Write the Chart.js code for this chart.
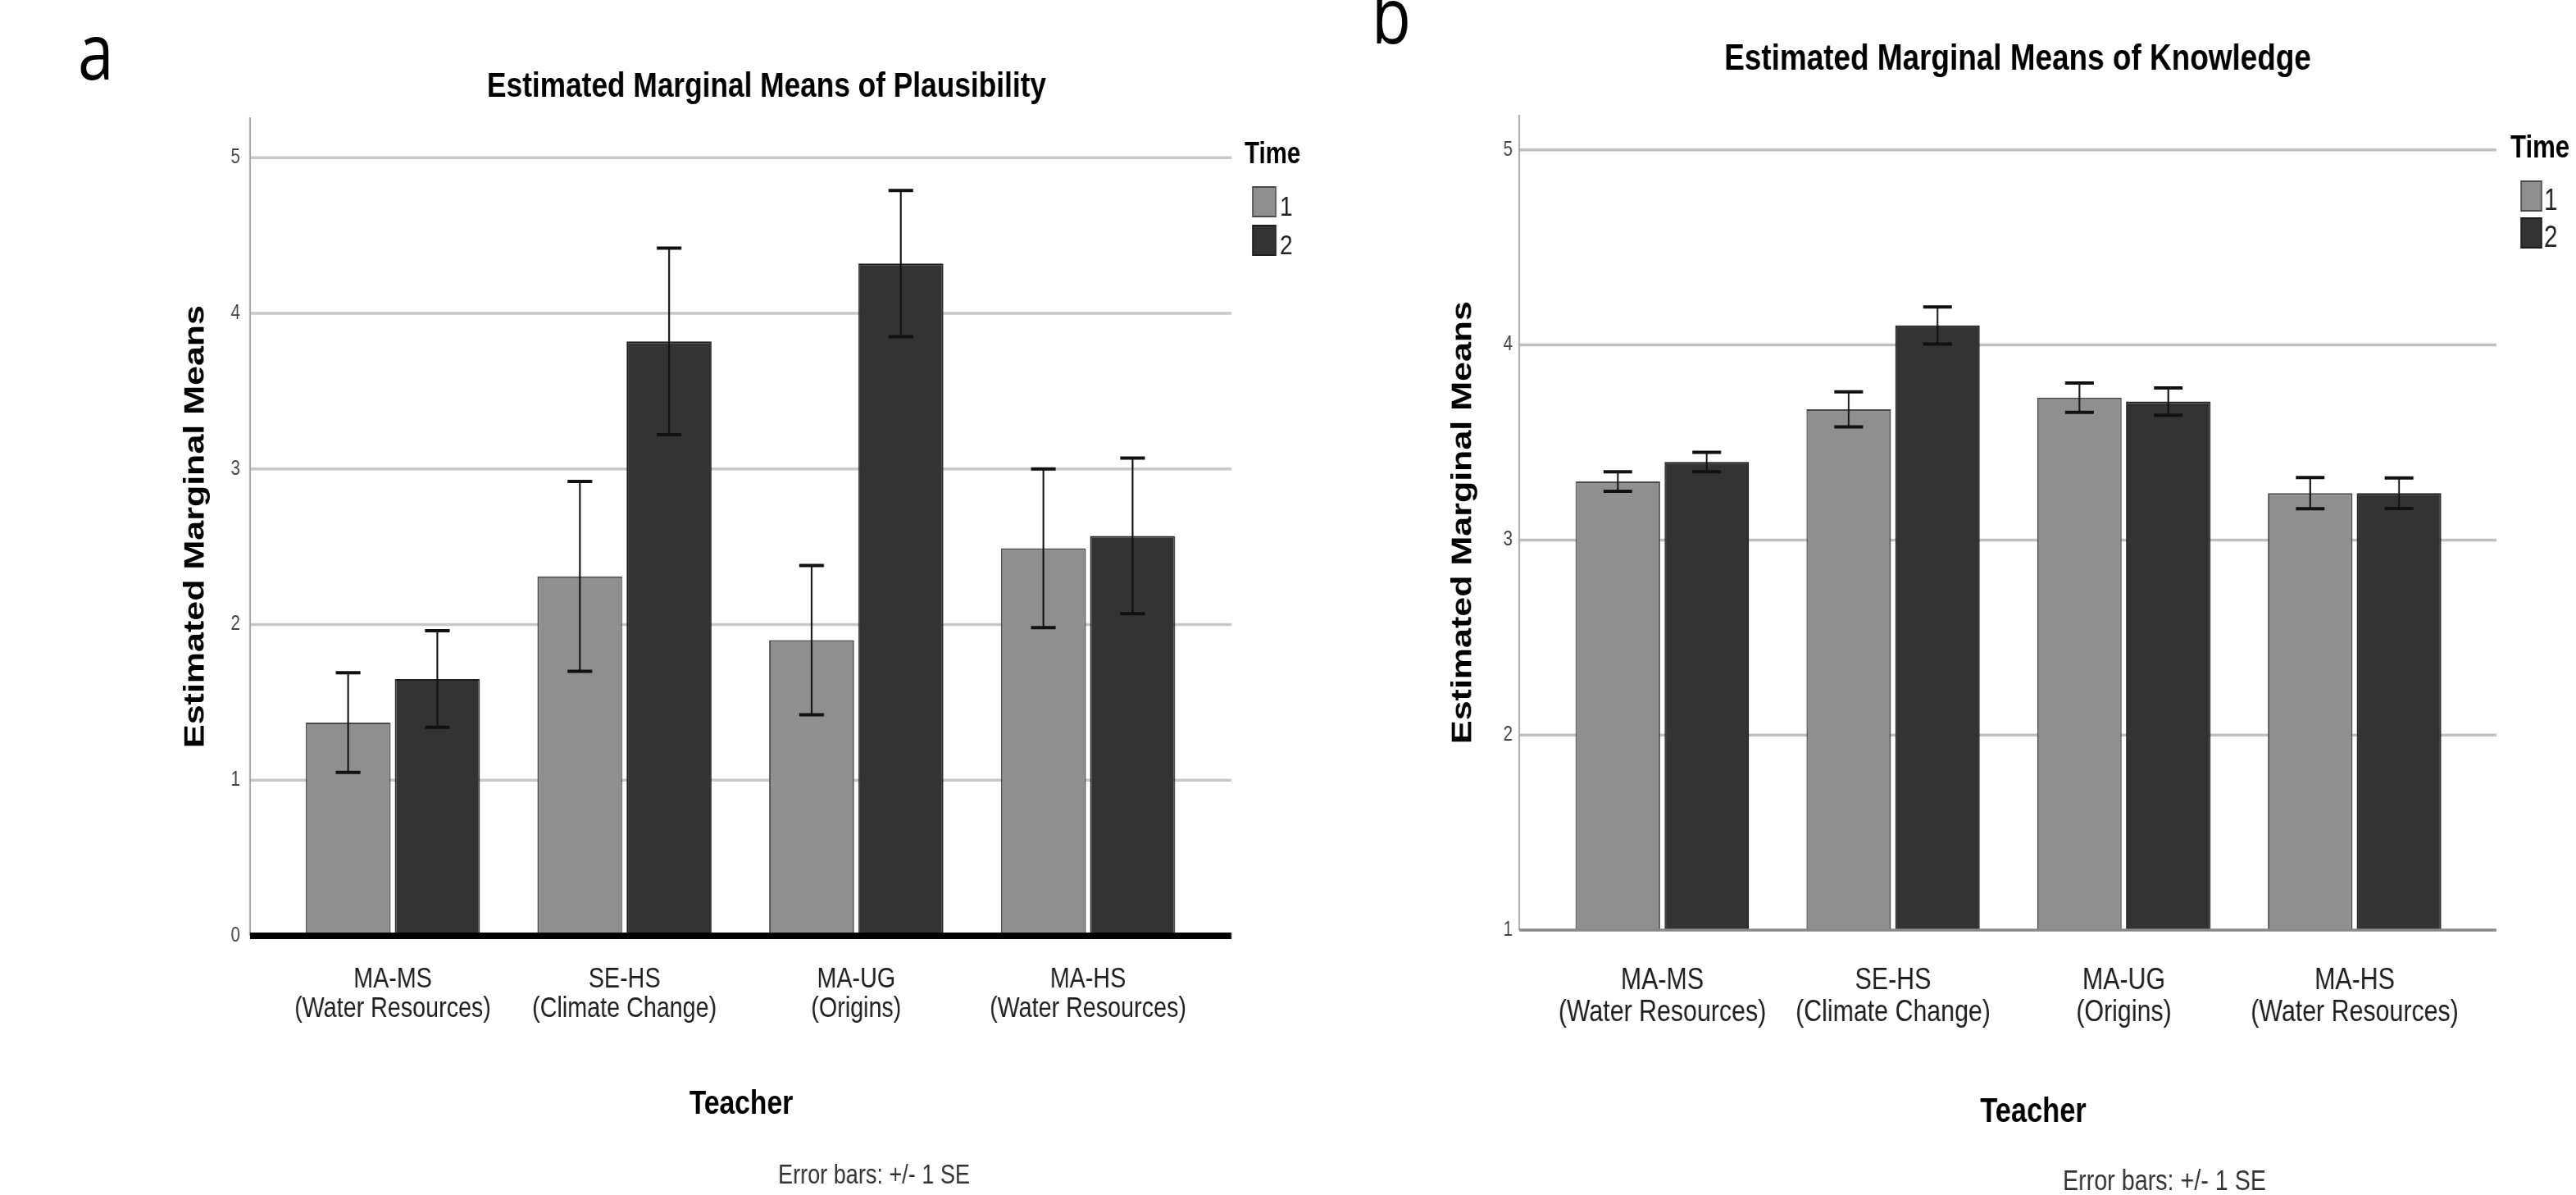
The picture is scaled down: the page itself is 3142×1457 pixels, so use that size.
<!DOCTYPE html>
<html><head><meta charset="utf-8">
<script src="https://cdn.jsdelivr.net/npm/chart.js@4.4.1/dist/chart.umd.min.js"></script>
<style>
html,body{margin:0;padding:0;background:#fff;}
body{width:3142px;height:1457px;position:relative;overflow:hidden;}
canvas{position:absolute;top:0;}
</style></head><body>
<canvas id="chartA"></canvas>
<canvas id="chartB"></canvas>
<script>
// ---------- data ----------
const categories = [
  ['MA-MS', '(Water Resources)'],
  ['SE-HS', '(Climate Change)'],
  ['MA-UG', '(Origins)'],
  ['MA-HS', '(Water Resources)']
];
const seriesLabels = ['1', '2'];
const legendTitle = 'Time';
const yAxisTitle = 'Estimated Marginal Means';
const xAxisTitle = 'Teacher';
const footnote = 'Error bars: +/- 1 SE';
const plausibilityTitle = 'Estimated Marginal Means of Plausibility';
const knowledgeTitle = 'Estimated Marginal Means of Knowledge';

const plausibilityTime1   = [1.37, 2.31, 1.90, 2.49];
const plausibilityTime1SE = [0.32, 0.61, 0.48, 0.51];
const plausibilityTime2   = [1.65, 3.82, 4.32, 2.57];
const plausibilityTime2SE = [0.31, 0.60, 0.47, 0.50];

const knowledgeTime1   = [3.30, 3.67, 3.73, 3.24];
const knowledgeTime1SE = [0.05, 0.09, 0.075, 0.08];
const knowledgeTime2   = [3.40, 4.10, 3.71, 3.24];
const knowledgeTime2SE = [0.05, 0.095, 0.07, 0.078];

const plausibilityTicks = [0, 1, 2, 3, 4, 5];
const knowledgeTicks = [1, 2, 3, 4, 5];

// ---------- styling ----------
const H = 1457, S = 0.82;
const FONT = "'Liberation Sans', Arial, sans-serif";
const LIGHT = '#8f8f8f', LIGHT_EDGE = '#4a4a4a', DARK = '#333333', DARK_EDGE = '#1c1c1c';
Chart.defaults.font.family = FONT;

function makePanel(p, t1, t1se, t2, t2se, ticks) {
  const canvas = document.getElementById(p.id);
  const W = Math.round(p.dispWidth / S);
  const sx = p.dispWidth / W;
  const X = d => d / sx;
  canvas.width = W; canvas.height = H;
  canvas.style.left = p.dispLeft + 'px';
  canvas.style.width = p.dispWidth + 'px';
  canvas.style.height = H + 'px';
  const errors = [t1se, t2se];

  const deco = {
    id: 'deco' + p.id,
    beforeDatasetsDraw(chart) {
      const ctx = chart.ctx, y = chart.scales.y;
      ctx.save();
      ctx.strokeStyle = p.gridColor; ctx.lineWidth = p.gridWidth;
      ticks.forEach(v => {
        if (v === p.yMin) return;
        const py = y.getPixelForValue(v);
        ctx.beginPath(); ctx.moveTo(X(p.axisX), py); ctx.lineTo(X(p.gridEnd), py); ctx.stroke();
      });
      ctx.strokeStyle = '#a8a8a8'; ctx.lineWidth = X(2);
      ctx.beginPath();
      ctx.moveTo(X(p.axisX), y.getPixelForValue(p.yMax));
      ctx.lineTo(X(p.axisX), y.getPixelForValue(p.yMin));
      ctx.stroke();
      ctx.restore();
    },
    afterDatasetsDraw(chart) {
      const ctx = chart.ctx, y = chart.scales.y;
      ctx.save();
      const by = y.getPixelForValue(p.yMin);
      ctx.strokeStyle = p.baseColor; ctx.lineWidth = p.baseWidth;
      ctx.beginPath(); ctx.moveTo(X(p.axisX), by); ctx.lineTo(X(p.gridEnd), by); ctx.stroke();
      ctx.strokeStyle = '#111';
      chart.data.datasets.forEach((ds, i) => {
        const meta = chart.getDatasetMeta(i);
        meta.data.forEach((bar, j) => {
          const v = ds.data[j], e = errors[i][j];
          const yt = y.getPixelForValue(v + e), yb = y.getPixelForValue(v - e);
          const half = X(p.capWidth) / 2;
          ctx.lineWidth = X(2);
          ctx.beginPath(); ctx.moveTo(bar.x, yt); ctx.lineTo(bar.x, yb); ctx.stroke();
          ctx.lineWidth = 4;
          ctx.beginPath();
          ctx.moveTo(bar.x - half, yt); ctx.lineTo(bar.x + half, yt);
          ctx.moveTo(bar.x - half, yb); ctx.lineTo(bar.x + half, yb);
          ctx.stroke();
        });
      });
      ctx.restore();
    },
    afterDraw(chart) {
      const ctx = chart.ctx;
      ctx.save();
      ctx.textBaseline = 'alphabetic';
      ctx.fillStyle = '#000';
      ctx.textAlign = 'left';
      ctx.font = "96px 'Open Sans', sans-serif";
      ctx.fillText(p.letter, X(p.letterX), p.letterY);
      ctx.textAlign = 'center';
      ctx.font = 'bold ' + p.titleSize + 'px ' + FONT;
      ctx.fillText(p.title, X(p.titleX), p.titleY);
      ctx.font = 'bold ' + p.xTitleSize + 'px ' + FONT;
      ctx.fillText(xAxisTitle, X(p.xTitleX), p.xTitleY);
      ctx.fillStyle = '#333';
      ctx.font = p.noteSize + 'px ' + FONT;
      ctx.fillText(footnote, X(p.noteX), p.noteY);
      ctx.textAlign = 'left';
      ctx.fillStyle = '#000';
      ctx.font = 'bold ' + p.legTitleSize + 'px ' + FONT;
      ctx.fillText(legendTitle, X(p.legX), p.legTitleY);
      chart.data.datasets.forEach((ds, i) => {
        const top = p.legBoxTop[i];
        ctx.fillStyle = ds.backgroundColor;
        ctx.strokeStyle = ds.borderColor;
        ctx.lineWidth = 2;
        ctx.beginPath();
        ctx.rect(X(p.legBoxX), top, X(p.legBoxW), p.legBoxH);
        ctx.fill(); ctx.stroke();
        ctx.fillStyle = '#222';
        ctx.font = p.legSize + 'px ' + FONT;
        ctx.fillText(ds.label, X(p.legLabelX), p.legLabelY[i]);
      });
      ctx.restore();
    }
  };

  return new Chart(canvas, {
    type: 'bar',
    data: {
      labels: categories,
      datasets: [
        { label: seriesLabels[0], data: t1, backgroundColor: LIGHT, borderColor: LIGHT_EDGE, borderWidth: 2 },
        { label: seriesLabels[1], data: t2, backgroundColor: DARK, borderColor: DARK_EDGE, borderWidth: 2 }
      ]
    },
    options: {
      responsive: false,
      animation: false,
      devicePixelRatio: 1,
      layout: { padding: { left: 0, right: W - X(p.plotRight), top: p.top, bottom: 0 } },
      datasets: { bar: { barPercentage: 0.95, categoryPercentage: 0.77 } },
      plugins: { legend: { display: false }, tooltip: { enabled: false }, title: { display: false } },
      scales: {
        x: {
          type: 'category',
          offset: true,
          grid: { display: false, drawTicks: false, tickLength: 0 },
          border: { display: false },
          ticks: {
            font: { size: p.catSize, lineHeight: 1.05 },
            color: '#1e1e1e',
            padding: p.catPad,
            maxRotation: 0, minRotation: 0, autoSkip: false
          },
          afterFit: s => { s.height = H - p.bottom; }
        },
        y: {
          type: 'linear',
          min: p.yMin, max: p.yMax,
          grid: { display: false, drawTicks: false, tickLength: 0 },
          border: { display: false },
          afterBuildTicks: s => { s.ticks = ticks.map(v => ({ value: v })); },
          ticks: { font: { size: 25 }, color: '#444', padding: X(p.plotLeft) - X(p.tickRight) },
          title: {
            display: true, text: yAxisTitle, color: '#000',
            font: { size: 43, weight: 'bold' },
            padding: { top: X(p.yTitleX) - 43 * 1.2 / 2, bottom: 0 }
          },
          afterFit: s => { s.width = X(p.plotLeft); }
        }
      }
    },
    plugins: [deco]
  });
}

makePanel({
  id: 'chartA', dispLeft: 0, dispWidth: 1600,
  letter: 'a', letterX: 95, letterY: 97,
  title: plausibilityTitle, titleSize: 43, titleX: 935, titleY: 118,
  plotLeft: 337.67, plotRight: 1468.33, axisX: 305, gridEnd: 1502,
  top: 143, bottom: 1141, yMin: 0, yMax: 5.26,
  gridColor: '#c8c8c8', gridWidth: 3.5, baseColor: '#000', baseWidth: 8,
  capWidth: 30, tickRight: 293, yTitleX: 238.5,
  catSize: 35, catPad: 34.6,
  xTitleSize: 41, xTitleX: 904, xTitleY: 1358,
  noteSize: 33, noteX: 1066, noteY: 1443,
  legTitleSize: 36, legX: 1518, legTitleY: 199,
  legBoxX: 1528, legBoxW: 28, legBoxH: 36, legBoxTop: [228, 275],
  legSize: 34, legLabelX: 1561, legLabelY: [263, 310]
}, plausibilityTime1, plausibilityTime1SE, plausibilityTime2, plausibilityTime2SE, plausibilityTicks);

makePanel({
  id: 'chartB', dispLeft: 1600, dispWidth: 1542,
  letter: 'b', letterX: 72.7, letterY: 53,
  title: knowledgeTitle, titleSize: 45, titleX: 861, titleY: 85,
  plotLeft: 286.75, plotRight: 1412.75, axisX: 253, gridEnd: 1445,
  top: 140, bottom: 1134, yMin: 1, yMax: 5.18,
  gridColor: '#c0c0c0', gridWidth: 3.5, baseColor: '#8a8a8a', baseWidth: 3.5,
  capWidth: 35, tickRight: 245, yTitleX: 185,
  catSize: 37, catPad: 42.7,
  xTitleSize: 42, xTitleX: 880, xTitleY: 1368,
  noteSize: 35, noteX: 1040, noteY: 1451,
  legTitleSize: 38, legX: 1462, legTitleY: 192,
  legBoxX: 1475, legBoxW: 25, legBoxH: 36, legBoxTop: [221, 266],
  legSize: 36, legLabelX: 1503, legLabelY: [256, 301]
}, knowledgeTime1, knowledgeTime1SE, knowledgeTime2, knowledgeTime2SE, knowledgeTicks);
</script>
</body></html>
